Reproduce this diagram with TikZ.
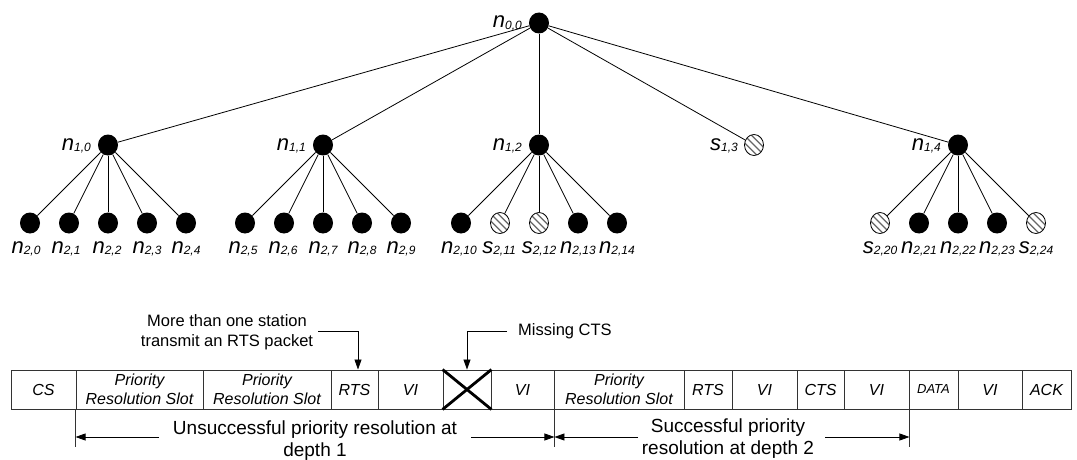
\documentclass[tikz,border=0pt]{standalone}
\usepackage{fontspec}
\setmainfont{Liberation Sans}
\usetikzlibrary{arrows.meta,calc,shapes.geometric}
\newcommand{\nlab}[2]{{\fontsize{22}{22}\selectfont\itshape #1}{\fontsize{12}{12}\selectfont\itshape\raisebox{-1.5pt}{#2}}}
\definecolor{boxline}{HTML}{333333}
\begin{document}
\begin{tikzpicture}[x=1pt,y=-1pt,
  blk/.style={ellipse,fill=black,minimum width=20pt,minimum height=21pt,inner sep=0pt},
  hat/.style={ellipse,draw=black,line width=0.8pt,fill=white,minimum width=19pt,minimum height=21pt,inner sep=0pt,
    path picture={\foreach \k in {-3,...,3}{\draw[black!60,line width=1.3pt]
      ($(path picture bounding box.center)+(\k*3.6-15,-\k*3.6-15)$) -- ++(30,30);}}},
  edge/.style={line width=0.8pt},
  lab/.style={inner sep=0pt},
  cellbox/.style={draw=boxline,line width=0.9pt,minimum height=39pt,inner sep=0pt,
    font=\fontsize{16}{18.5}\selectfont\itshape,align=center},
  ann/.style={inner sep=0pt,font=\fontsize{16.5}{20}\selectfont,align=center},
  dimtxt/.style={inner sep=0pt,font=\fontsize{19}{22}\selectfont,align=center},
  arr/.style={-{Triangle[length=10pt,width=7pt]},line width=0.8pt},
  ext/.style={line width=0.7pt,draw=boxline}
]
\useasboundingbox (0,0) rectangle (1077,460);

% ---- tree ----
\node[blk] (r) at (539,23) {};
\node[lab,anchor=base east] (lr) at (522,28) {\nlab{n}{0,0}};

\node[blk] (a0) at (108,145) {};
\node[blk] (a1) at (323,145) {};
\node[blk] (a2) at (539,145) {};
\node[hat] (a3) at (754,145) {};
\node[blk] (a4) at (958,145) {};
\node[lab,anchor=base east] (la0) at (91,150) {\nlab{n}{1,0}};
\node[lab,anchor=base east] (la1) at (306,150) {\nlab{n}{1,1}};
\node[lab,anchor=base east] (la2) at (522,150) {\nlab{n}{1,2}};
\node[lab,anchor=base east] (la3) at (738,150) {\nlab{s}{1,3}};
\node[lab,anchor=base east] (la4) at (941,150) {\nlab{n}{1,4}};

\foreach \p in {a0,a1,a2,a3,a4} \draw[edge] (r) -- (\p);

% leaves group 0
\node[blk] (b0) at (30,223) {};
\node[blk] (b1) at (69,223) {};
\node[blk] (b2) at (108,223) {};
\node[blk] (b3) at (147,223) {};
\node[blk] (b4) at (186,223) {};
% group 1
\node[blk] (b5) at (245,223) {};
\node[blk] (b6) at (284,223) {};
\node[blk] (b7) at (323,223) {};
\node[blk] (b8) at (362,223) {};
\node[blk] (b9) at (401,223) {};
% group 2
\node[blk] (b10) at (461,223) {};
\node[hat] (b11) at (500,223) {};
\node[hat] (b12) at (539,223) {};
\node[blk] (b13) at (578,223) {};
\node[blk] (b14) at (617,223) {};
% group 4
\node[hat] (b20) at (880,223) {};
\node[blk] (b21) at (919,223) {};
\node[blk] (b22) at (958,223) {};
\node[blk] (b23) at (997,223) {};
\node[hat] (b24) at (1036,223) {};

\foreach \c in {b0,b1,b2,b3,b4} \draw[edge] (a0) -- (\c);
\foreach \c in {b5,b6,b7,b8,b9} \draw[edge] (a1) -- (\c);
\foreach \c in {b10,b11,b12,b13,b14} \draw[edge] (a2) -- (\c);
\foreach \c in {b20,b21,b22,b23,b24} \draw[edge] (a4) -- (\c);

\node[lab,anchor=base] (l0) at (26,253) {\nlab{n}{2,0}};
\node[lab,anchor=base] (l1) at (66,253) {\nlab{n}{2,1}};
\node[lab,anchor=base] (l2) at (107,253) {\nlab{n}{2,2}};
\node[lab,anchor=base] (l3) at (147,253) {\nlab{n}{2,3}};
\node[lab,anchor=base] (l4) at (186,253) {\nlab{n}{2,4}};
\node[lab,anchor=base] (l5) at (243,253) {\nlab{n}{2,5}};
\node[lab,anchor=base] (l6) at (283,253) {\nlab{n}{2,6}};
\node[lab,anchor=base] (l7) at (323,253) {\nlab{n}{2,7}};
\node[lab,anchor=base] (l8) at (362,253) {\nlab{n}{2,8}};
\node[lab,anchor=base] (l9) at (401,253) {\nlab{n}{2,9}};
\node[lab,anchor=base] (l10) at (459,253) {\nlab{n}{2,10}};
\node[lab,anchor=base] (l11) at (499,253) {\nlab{s}{2,11}};
\node[lab,anchor=base] (l12) at (539,253) {\nlab{s}{2,12}};
\node[lab,anchor=base] (l13) at (578,253) {\nlab{n}{2,13}};
\node[lab,anchor=base] (l14) at (617,253) {\nlab{n}{2,14}};
\node[lab,anchor=base] (l20) at (880,253) {\nlab{s}{2,20}};
\node[lab,anchor=base] (l21) at (919,253) {\nlab{n}{2,21}};
\node[lab,anchor=base] (l22) at (958,253) {\nlab{n}{2,22}};
\node[lab,anchor=base] (l23) at (997,253) {\nlab{n}{2,23}};
\node[lab,anchor=base] (l24) at (1036,253) {\nlab{s}{2,24}};

% ---- timeline ----
\node[cellbox,minimum width=65pt]  (c1)  at (43.5,389.5) {CS};
\node[cellbox,minimum width=127pt] (c2)  at (139.5,389.5) {Priority\\Resolution Slot};
\node[cellbox,minimum width=128pt] (c3)  at (267,389.5) {Priority\\Resolution Slot};
\node[cellbox,minimum width=47pt]  (c4)  at (354.5,389.5) {RTS};
\node[cellbox,minimum width=65pt]  (c5)  at (410.5,389.5) {VI};
\node[cellbox,minimum width=48pt]  (cX)  at (467,389.5) {};
\node[cellbox,minimum width=63pt]  (c7)  at (522.5,389.5) {VI};
\node[cellbox,minimum width=130pt] (c8)  at (619,389.5) {Priority\\Resolution Slot};
\node[cellbox,minimum width=48pt]  (c9)  at (708,389.5) {RTS};
\node[cellbox,minimum width=65pt]  (c10) at (764.5,389.5) {VI};
\node[cellbox,minimum width=47pt]  (c11) at (820.5,389.5) {CTS};
\node[cellbox,minimum width=65pt]  (c12) at (876.5,389.5) {VI};
\node[cellbox,minimum width=49pt,font=\fontsize{13}{15}\selectfont\itshape] (c13) at (933.5,389.5) {DATA};
\node[cellbox,minimum width=64pt]  (c14) at (990,389.5) {VI};
\node[cellbox,minimum width=49pt]  (c15) at (1046.5,389.5) {ACK};

\draw[line width=2.8pt] (cX.north west) -- (cX.south east);
\draw[line width=2.8pt] (cX.south west) -- (cX.north east);

% annotations
\node[ann] (ann1) at (227,332) {More than one station\\transmit an RTS packet};
\coordinate (p1) at (318,331);
\coordinate (t1) at (358,369.5);
\draw[arr] (p1) -| (t1);

\node[ann,anchor=west] (mc) at (518,331) {Missing CTS};
\coordinate (p2) at (507,331);
\draw[arr] (p2) -| (cX.north);

% dimension lines
\draw[ext] (c2.south west) -- ++(0,38);
\draw[ext] (c7.south east) -- ++(0,38);
\draw[ext] (c12.south east) -- ++(0,38);

\node[dimtxt] (d1) at (315,441) {Unsuccessful priority resolution at\\depth 1};
\node[dimtxt] (d2) at (728,438.5) {Successful priority\\resolution at depth 2};

\coordinate (d1l) at (159,437);
\coordinate (d1r) at (471,437);
\coordinate (d2l) at (638,437);
\coordinate (d2r) at (825,437);
\draw[arr] (d1l) -- (c2.south west |- d1l);
\draw[arr] (d1r) -- (c7.south east |- d1r);
\draw[arr] (d2l) -- (c7.south east |- d2l);
\draw[arr] (d2r) -- (c12.south east |- d2r);
\end{tikzpicture}
\end{document}
